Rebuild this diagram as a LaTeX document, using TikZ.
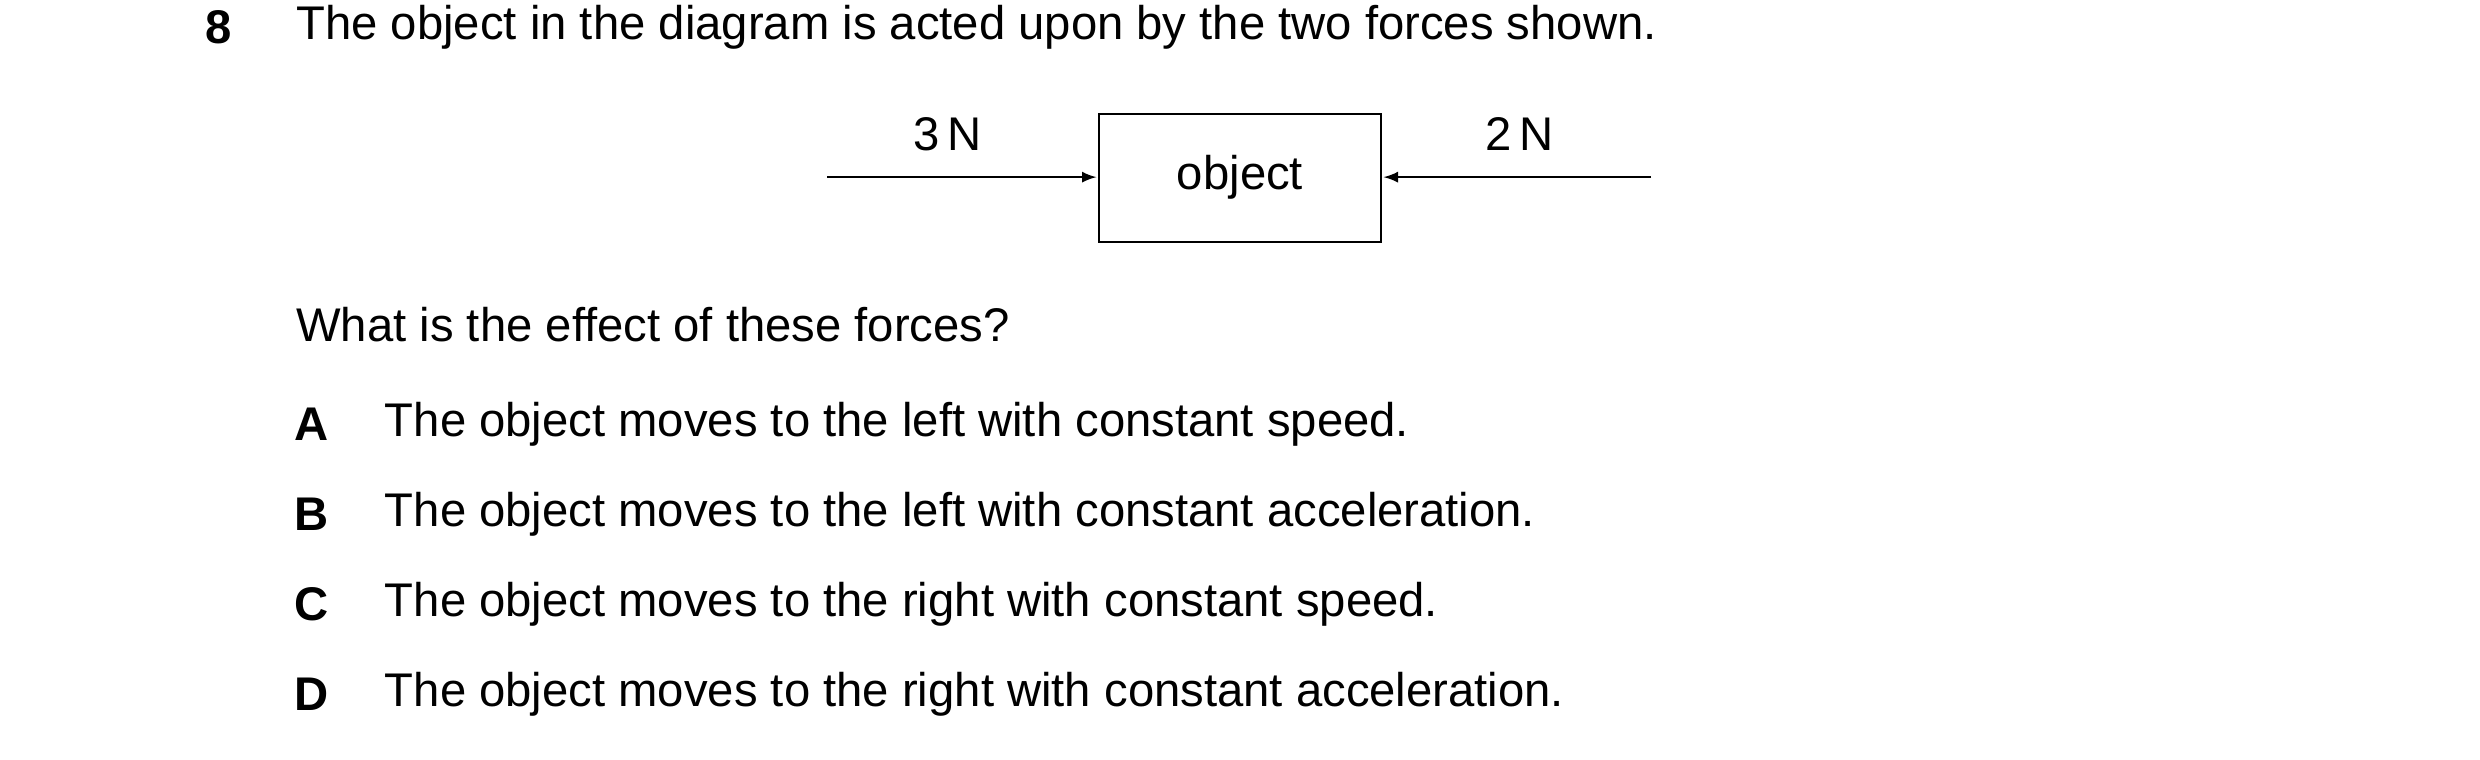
\documentclass[tikz,border=0pt]{standalone}
\usepackage{fontspec}
\setmainfont{Liberation Sans}
\usetikzlibrary{shapes,arrows}
\usetikzlibrary{positioning}
\tikzset{
  txt/.style={anchor=west, inner sep=0pt, font=\fontsize{17}{20}\selectfont},
  lbl/.style={inner sep=0pt, font=\fontsize{17}{20}\selectfont\bfseries},
  force/.style={-latex, thick, shorten >=1pt}
}
\begin{document}
\begin{tikzpicture}[x=0.2mm, y=-0.2mm]
      \useasboundingbox (0,0) rectangle (1568,480);
      \node[lbl] (num) at (138,17) {8};
      \node[txt] (intro) at (187,17) {The object in the diagram is acted upon by the two forces shown.};
      % the object and the two forces
      \draw[thick] (695,72) rectangle (873,153);
      \node[inner sep=0pt, font=\fontsize{17}{20}\selectfont] (obj) at (784,112) {object};
      \coordinate (lstart) at (523,112);
      \coordinate (rstart) at (1044,112);
      \coordinate (lend) at (695,112);
      \coordinate (rend) at (873,112);
      \draw[force] (lstart) -- (lend);
      \draw[force] (rstart) -- (rend);
      \node[inner sep=0pt, font=\fontsize{17}{20}\selectfont] (fleft) at (599,85) {3\,N};
      \node[inner sep=0pt, font=\fontsize{17}{20}\selectfont] (fright) at (961,85) {2\,N};
      \node[txt] (question) at (187,205) {What is the effect of these forces?};
      % options
      \node[lbl] (optA) at (197,268) {A};
      \node[txt] (ansA) at (243,268) {The object moves to the left with constant speed.};
      \node[lbl] (optB) at (197,325) {B};
      \node[txt] (ansB) at (243,325) {The object moves to the left with constant acceleration.};
      \node[lbl] (optC) at (197,382) {C};
      \node[txt] (ansC) at (243,382) {The object moves to the right with constant speed.};
      \node[lbl] (optD) at (197,439) {D};
      \node[txt] (ansD) at (243,439) {The object moves to the right with constant acceleration.};
\end{tikzpicture}
\end{document}
